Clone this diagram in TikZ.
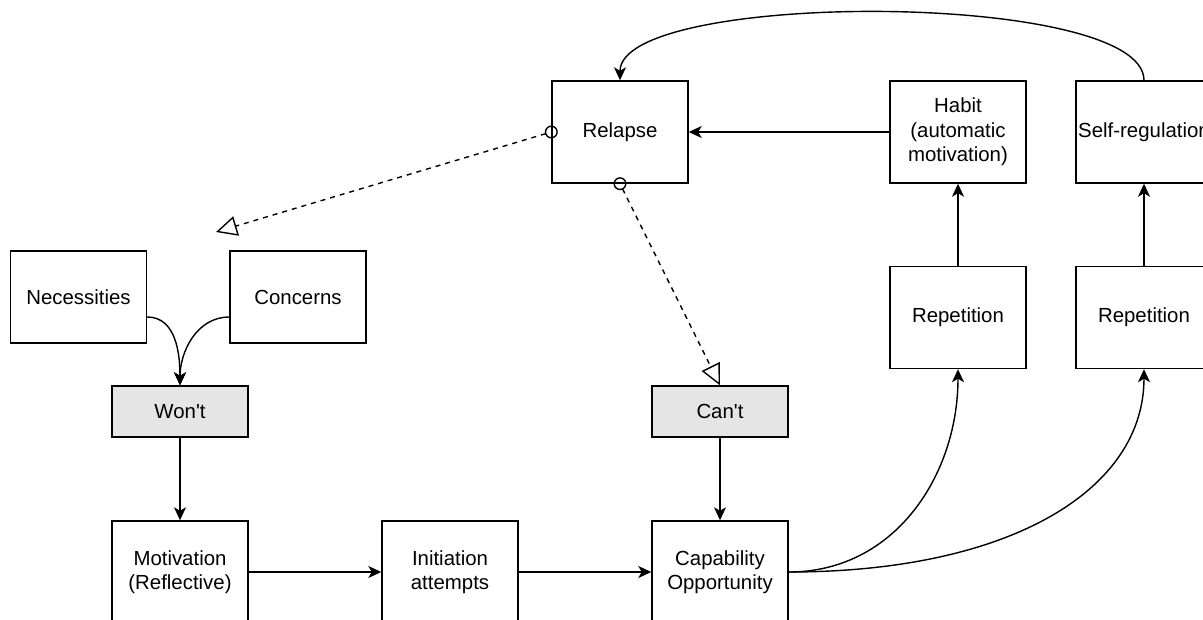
\documentclass[tikz,border=0pt]{standalone}
\usepackage{fontspec}
\setmainfont{Liberation Sans}
\usetikzlibrary{arrows.meta}

\begin{document}
\begin{tikzpicture}[x=1pt,y=-1pt,
        font=\fontsize{20.4}{24.5}\selectfont,
        box/.style={draw,line width=1.4pt,minimum width=136pt,minimum height=102pt,inner sep=0pt,align=center},
        flatbox/.style={box,minimum height=92pt},
        greybox/.style={box,fill=black!10,minimum height=51pt},
        flow/.style={line width=1.4pt,-{Stealth[length=13pt,width=12pt,inset=3.5pt]}},
        link/.style={line width=1.4pt,dash pattern=on 5pt off 5pt,
            {Circle[open,length=13pt,width=13pt]}-{Triangle[open,length=21pt,width=20pt]},shorten <=-6.5pt}]
        \useasboundingbox (0,0) rectangle (1203,619);
        \clip (0,0) rectangle (1203,619);
        \node[box] (relapse) at (620,132) {Relapse};
        \node[box] (habit) at (958,132) {Habit\\(automatic\\motivation)};
        \node[box] (selfreg) at (1144,132) {Self-regulation};
        \node[box] (rep1) at (958,317.5) {Repetition};
        \node[box] (rep2) at (1144,317.5) {Repetition};
        \node[flatbox] (necess) at (78.5,297) {Necessities};
        \node[flatbox] (concerns) at (298,297) {Concerns};
        \node[greybox] (wont) at (180,411.5) {Won\textquotesingle t};
        \node[greybox] (cant) at (720,411.5) {Can\textquotesingle t};
        \node[box] (motiv) at (180,572) {Motivation\\(Reflective)};
        \node[box] (init) at (450,572) {Initiation\\attempts};
        \node[box] (capab) at (720,572) {Capability\\Opportunity};
        \coordinate (wonttip) at (216,232);

        \draw[flow] (necess.east |- 0,317) to[out=0,in=90] (wont.north);
        \draw[flow] (concerns.west |- 0,317) to[out=180,in=90] (wont.north);
        \draw[flow] (wont) -- (motiv);
        \draw[flow] (cant) -- (capab);
        \draw[flow] (motiv) -- (init);
        \draw[flow] (init) -- (capab);
        \draw[flow] (capab.east) .. controls (895,572) and (958,475) .. (rep1.south);
        \draw[flow] (capab.east) .. controls (1010,572) and (1144,490) .. (rep2.south);
        \draw[flow] (rep1) -- (habit);
        \draw[flow] (rep2) -- (selfreg);
        \draw[flow] (habit) -- (relapse);
        \draw[flow] (selfreg.north) .. controls (1144,-10) and (620,-10) .. (relapse.north);
        \draw[link] (relapse.west) -- (wonttip);
        \draw[link] (relapse.south) -- (cant.north);
    \end{tikzpicture}
\end{document}
